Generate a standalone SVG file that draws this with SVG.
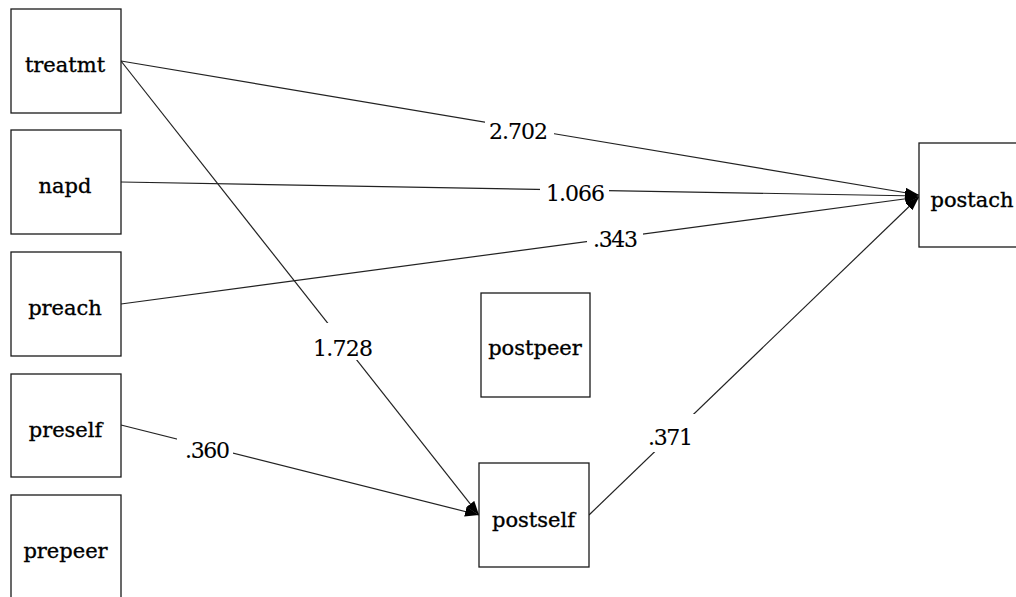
<svg xmlns="http://www.w3.org/2000/svg" width="1016" height="597" viewBox="0 0 1016 597">
  <style>
    .node rect { fill: #ffffff; stroke: #1a1a1a; stroke-width: 1.3; }
    .node text { font-family: "DejaVu Serif", "Liberation Serif", serif; font-size: 21px; fill: #000; stroke: #000; stroke-width: 0.35; text-anchor: middle; }
    .edge line { stroke: #222; stroke-width: 1.2; }
    .lbl rect { fill: #ffffff; stroke: none; }
    .lbl text { font-family: "DejaVu Serif", "Liberation Serif", serif; font-size: 22px; fill: #000; stroke: #000; stroke-width: 0.1; text-anchor: middle; }
  </style>
  <defs>
    <marker id="arrow" markerUnits="userSpaceOnUse" markerWidth="15" markerHeight="11" refX="14" refY="5" orient="auto">
      <path d="M0,0 L14,5 L0,10 Z" fill="#000"/>
    </marker>
  </defs>
  <rect width="1016" height="597" fill="#ffffff"/>

  <!-- path connectors -->
  <g id="connectors">
    <g class="edge">
      <line x1="121" y1="61" x2="919" y2="195" marker-end="url(#arrow)"/>
      <line x1="121" y1="182" x2="919" y2="196" marker-end="url(#arrow)"/>
      <line x1="121" y1="304" x2="919" y2="197" marker-end="url(#arrow)"/>
      <line x1="121" y1="61" x2="479" y2="515" marker-end="url(#arrow)"/>
      <line x1="121" y1="425" x2="479" y2="515" marker-end="url(#arrow)"/>
      <line x1="589" y1="515" x2="919" y2="197" marker-end="url(#arrow)"/>
    </g>
    <g class="lbl">
      <rect x="485" y="120" width="69" height="23"/>
      <text x="518.5" y="139" textLength="59">2.702</text>
      <rect x="540" y="180" width="69" height="25"/>
      <text x="575.5" y="201" textLength="59">1.066</text>
      <rect x="587" y="226" width="56" height="26"/>
      <text x="615.5" y="247" textLength="45">.343</text>
      <rect x="309" y="323" width="68" height="37"/>
      <text x="343" y="356" textLength="60">1.728</text>
      <rect x="177" y="436" width="56" height="26"/>
      <text x="207.5" y="458" textLength="45">.360</text>
      <rect x="645" y="414" width="52" height="38"/>
      <text x="670.5" y="445" textLength="45">.371</text>
    </g>
  </g>

  <!-- observed variables -->
  <g id="treatmt" class="node">
    <rect x="11" y="9" width="110" height="104"/>
    <text x="65" y="72">treatmt</text>
  </g>
  <g id="napd" class="node">
    <rect x="11" y="130" width="110" height="104"/>
    <text x="65" y="193">napd</text>
  </g>
  <g id="preach" class="node">
    <rect x="11" y="252" width="110" height="104"/>
    <text x="65" y="315">preach</text>
  </g>
  <g id="preself" class="node">
    <rect x="11" y="374" width="110" height="103"/>
    <text x="65.5" y="437">preself</text>
  </g>
  <g id="prepeer" class="node">
    <rect x="11" y="495" width="110" height="110"/>
    <text x="65.5" y="558">prepeer</text>
  </g>
  <g id="postpeer" class="node">
    <rect x="481" y="293" width="109" height="104"/>
    <text x="535" y="355">postpeer</text>
  </g>
  <g id="postself" class="node">
    <rect x="479" y="463" width="110" height="104"/>
    <text x="533.5" y="527">postself</text>
  </g>
  <g id="postach" class="node">
    <rect x="919" y="143" width="110" height="104"/>
    <text x="972" y="207">postach</text>
  </g>
</svg>
